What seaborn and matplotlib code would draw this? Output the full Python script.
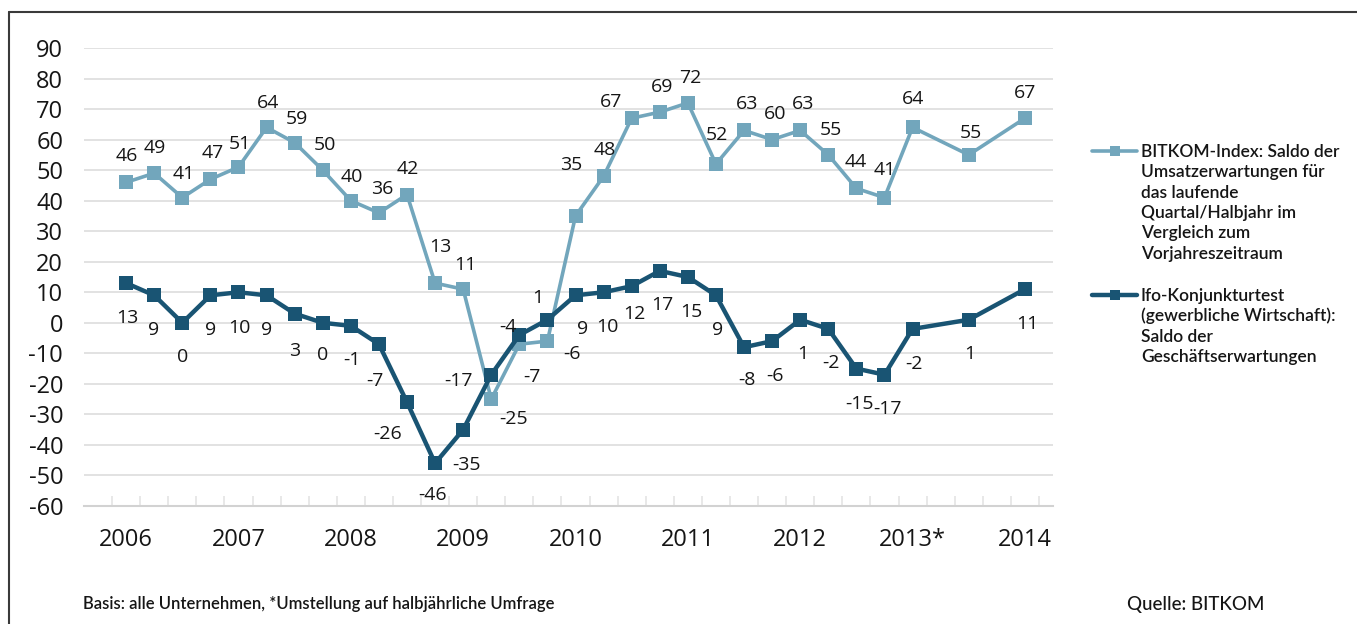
import matplotlib
matplotlib.use("Agg")
import matplotlib.pyplot as plt
import matplotlib.lines as mlines
import numpy as np
import pandas as pd
import seaborn as sns

# Survey periods: quarterly until 2012, half-yearly from 2013 on
periods = [
    "2006-Q1", "2006-Q2", "2006-Q3", "2006-Q4",
    "2007-Q1", "2007-Q2", "2007-Q3", "2007-Q4",
    "2008-Q1", "2008-Q2", "2008-Q3", "2008-Q4",
    "2009-Q1", "2009-Q2", "2009-Q3", "2009-Q4",
    "2010-Q1", "2010-Q2", "2010-Q3", "2010-Q4",
    "2011-Q1", "2011-Q2", "2011-Q3", "2011-Q4",
    "2012-Q1", "2012-Q2", "2012-Q3", "2012-Q4",
    "2013-H1", "2013-H2", "2014-H1",
]
bitkom = [46, 49, 41, 47, 51, 64, 59, 50, 40, 36, 42, 13, 11, -25, -7, -6,
          35, 48, 67, 69, 72, 52, 63, 60, 63, 55, 44, 41, 64, 55, 67]
ifo = [13, 9, 0, 9, 10, 9, 3, 0, -1, -7, -26, -46, -35, -17, -4, 1,
       9, 10, 12, 17, 15, 9, -8, -6, 1, -2, -15, -17, -2, 1, 11]
years = [2006, 2007, 2008, 2009, 2010, 2011, 2012, 2013, 2014]
year_labels = ["2006", "2007", "2008", "2009", "2010", "2011", "2012", "2013*", "2014"]
y_ticks = [90, 80, 70, 60, 50, 40, 30, 20, 10, 0, -10, -20, -30, -40, -50, -60]

bitkom_label = ("BITKOM-Index: Saldo der\nUmsatzerwartungen für\ndas laufende\n"
                "Quartal/Halbjahr im\nVergleich zum\nVorjahreszeitraum")
ifo_label = "Ifo-Konjunkturtest\n(gewerbliche Wirtschaft):\nSaldo der\nGeschäftserwartungen"
note_text = "Basis: alle Unternehmen, *Umstellung auf halbjährliche Umfrage"
source_text = "Quelle: BITKOM"

# value label offsets in pixels (dx, dy upward) relative to each marker
bitkom_offsets = [(1, 28), (1, 27), (1, 26), (2, 28), (1, 25), (1, 26), (2, 26), (2, 27),
                  (1, 26), (3, 26), (1, 28), (5, 38), (2, 26), (22, -18), (13, -31), (25, -11),
                  (-4, 53), (1, 28), (-21, 18), (2, 27), (2, 27), (1, 31), (3, 28), (3, 28),
                  (3, 28), (3, 27), (-1, 28), (0, 30), (0, 30), (2, 24), (0, 27)]
ifo_offsets = [(1, -33), (-1, -33), (0, -32), (0, -33), (1, -34), (0, -33), (0, -35), (0, -30),
               (1, -32), (-4, -35), (-19, -30), (-3, -30), (3, -33), (-33, -4), (-11, 10), (-10, 24),
               (7, -32), (4, -33), (3, -26), (3, -32), (3, -33), (2, -33), (3, -31), (3, -33),
               (3, -32), (3, -32), (3, -33), (3, -32), (1, -33), (1, -32), (2, -33)]

LIGHT = "#72a6bc"
DARK = "#195473"
TEXT = "#151515"


def period_position(p):
    year, part = p.split("-")
    step = int(part[1]) - 1 if part[0] == "Q" else (int(part[1]) - 1) * 2
    return (int(year) - 2006) * 4 + step


pos = [period_position(p) for p in periods]
year_pos = [period_position(f"{y}-Q1") for y in years]

df = pd.DataFrame({"pos": pos, "BITKOM": bitkom, "Ifo": ifo})

sns.set_theme(style="white")
plt.rcParams["font.family"] = ["Open Sans", "DejaVu Sans"]

W, H = 1357, 624
fig = plt.figure(figsize=(W / 100, H / 100), dpi=100)
fig.patch.set_facecolor("white")


def fx(px):
    return px / W


def fy(py):
    return 1 - py / H


ax = fig.add_axes([fx(84), fy(506), fx(1053) - fx(84), fy(48) - fy(506)])
ax.set_facecolor("white")

sns.lineplot(data=df, x="pos", y="BITKOM", ax=ax, color=LIGHT, linewidth=2.6,
             marker="s", markersize=9.5, markeredgewidth=0, zorder=3)
sns.lineplot(data=df, x="pos", y="Ifo", ax=ax, color=DARK, linewidth=3.2,
             marker="s", markersize=9.5, markeredgewidth=0, zorder=4)

for x, v, (dx, dy) in zip(pos, bitkom, bitkom_offsets):
    ax.annotate(str(v), (x, v), xytext=(dx, dy - 7), textcoords="offset pixels",
                ha="center", va="baseline", fontsize=14, fontweight="medium",
                color=TEXT, zorder=5)
for x, v, (dx, dy) in zip(pos, ifo, ifo_offsets):
    ax.annotate(str(v), (x, v), xytext=(dx, dy - 7), textcoords="offset pixels",
                ha="center", va="baseline", fontsize=14, fontweight="medium",
                color=TEXT, zorder=5)

ax.set_xlim(-1.5, 33.0)
ax.set_ylim(-60, 90)
ax.set_yticks(y_ticks)
ax.set_yticklabels([str(t) for t in y_ticks])
ax.set_xticks(year_pos)
ax.set_xticklabels(year_labels)
ax.set_xticks(np.arange(-0.5, 33.0, 1.0), minor=True)
ax.set_xlabel("")
ax.set_ylabel("")
for lbl in ax.get_xticklabels() + ax.get_yticklabels():
    lbl.set_fontweight("medium")

ax.yaxis.grid(True, color="#e2e2e2", linewidth=1.4)
ax.xaxis.grid(False)
ax.set_axisbelow(True)
for side in ("top", "right", "left"):
    ax.spines[side].set_visible(False)
ax.spines["bottom"].set_color("#d2d2d2")
ax.spines["bottom"].set_linewidth(1.5)

ax.tick_params(axis="y", length=0, pad=15, labelsize=17, labelcolor=TEXT)
ax.tick_params(axis="x", which="major", length=0, pad=16, labelsize=17, labelcolor=TEXT)
ax.tick_params(axis="x", which="minor", direction="in", length=7, width=1.2,
               color="#e4e4e4", bottom=True)

# outer frame (open to the right and bottom)
fig.add_artist(mlines.Line2D([fx(9), 1.01], [fy(12), fy(12)], transform=fig.transFigure,
                             color="#3a3a3a", linewidth=1.5))
fig.add_artist(mlines.Line2D([fx(9), fx(9)], [fy(12), -0.01], transform=fig.transFigure,
                             color="#3a3a3a", linewidth=1.5))

# legend: line sample with square marker, label lines aligned to the first row
legend_font = ["Lato", "DejaVu Sans"]
for label, color, lw, top in ((bitkom_label, LIGHT, 2.6, 151), (ifo_label, DARK, 3.2, 295)):
    fig.add_artist(mlines.Line2D([fx(1092), fx(1114.5), fx(1137)], [fy(top)] * 3,
                                 transform=fig.transFigure, color=color, linewidth=lw,
                                 marker="s", markersize=7, markeredgewidth=0, markevery=[1]))
    for k, line in enumerate(label.split("\n")):
        fig.text(fx(1141), fy(top + 6 + k * 20.3), line, ha="left", va="baseline",
                 fontsize=12.5, fontweight="semibold", color=TEXT, family=legend_font)

fig.text(fx(83), fy(609), note_text, ha="left", va="baseline", fontsize=12,
         fontweight="semibold", color=TEXT, family=legend_font)
fig.text(fx(1127), fy(610), source_text, ha="left", va="baseline", fontsize=13.5,
         fontweight="medium", color=TEXT, family=legend_font)

fig.savefig("out.png", dpi=100, facecolor="white")
